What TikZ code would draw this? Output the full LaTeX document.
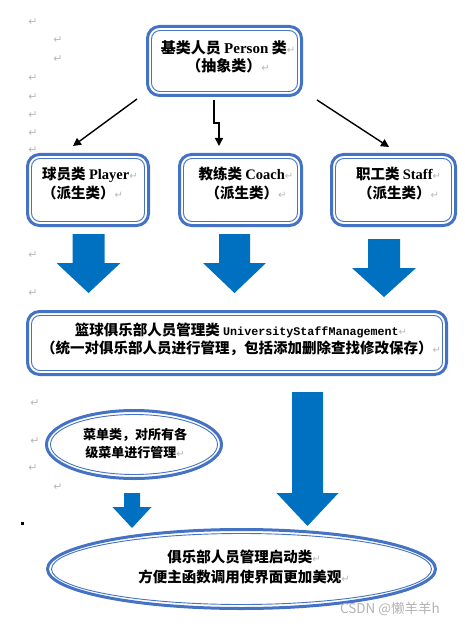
\documentclass[tikz,border=0pt]{standalone}
\usepackage{fontspec}
\setmainfont{Liberation Serif}
\newfontfamily\cjk{Noto Sans CJK SC}
\newfontfamily\myen{Liberation Serif}
\newfontfamily\mymono{Liberation Mono}
\newfontfamily\dejavu{DejaVu Sans}
\usetikzlibrary{arrows.meta,calc,shapes.geometric}
\definecolor{boxblue}{HTML}{4472C4}
\definecolor{arrblue}{HTML}{0070C0}
\newcommand\parmark{{\dejavu\mdseries\color{gray!55}\fontsize{10}{10}\selectfont ↵}}
\newcommand\en[1]{{\myen\bfseries #1}}
\newcommand\blockarrow[6]{% xc, ytop, shaft half, head half, yhead, ytip
  \fill[arrblue] (#1-#3,#2) -- (#1+#3,#2) -- (#1+#3,#5) -- (#1+#4,#5) -- (#1,#6) -- (#1-#4,#5) -- (#1-#3,#5) -- cycle;}
\newcommand\innerbox[1]{\draw[boxblue,line width=0.9pt,rounded corners=8.5pt] ($(#1.north west)+(4,4)$) rectangle ($(#1.south east)+(-4,-4)$);}
\tikzset{
  rbox/.style={draw=boxblue,line width=3pt,rounded corners=12pt,outer sep=0pt,inner sep=0pt,fill=white},
  ebox/.style={ellipse,draw=boxblue,line width=3pt,outer sep=0pt,inner sep=0pt,fill=white},
  einner/.style={draw=boxblue,line width=0.9pt},
  txt/.style={inner sep=0pt,align=center,font=\cjk\bfseries\fontsize{14.5}{19}\selectfont},
  conn/.style={line width=1.4pt,-{Triangle[length=8pt,width=8pt]}},
  pmark/.style={inner sep=0pt,font=\dejavu\fontsize{11}{11}\selectfont,text=gray!55}
}
\begin{document}
\begin{tikzpicture}[x=1pt,y=-1pt]
\useasboundingbox (0,0) rectangle (464,628);
% paragraph marks in the margin
\foreach \px/\py [count=\i] in {33/22,58/40,58/59,33/78,33/97,33/115,33/133,33/150,33/255,33/293,35/403,35/441,33/468,58/487}
  \node[pmark] (pm\i) at (\px,\py) {↵};
\node[fill=black,minimum size=3pt,inner sep=0pt] (dot) at (22,523) {};

% boxes
\node[rbox,minimum width=154,minimum height=69] (top) at (224.5,61) {};
\innerbox{top}
\node[rbox,minimum width=121,minimum height=71] (player) at (88,190) {};
\innerbox{player}
\node[rbox,minimum width=122,minimum height=71] (coach) at (240.5,190) {};
\innerbox{coach}
\node[rbox,minimum width=124,minimum height=71] (staff) at (393.5,190) {};
\innerbox{staff}
\node[rbox,minimum width=419,minimum height=63] (mgmt) at (237,343) {};
\innerbox{mgmt}
\node[ebox,minimum width=175,minimum height=68] (menu) at (134,444.5) {};
\draw[einner] (menu.center) ellipse [x radius=83.5pt,y radius=30pt];
\node[ebox,minimum width=388,minimum height=79] (start) at (241.5,569) {};
\draw[einner] (start.center) ellipse [x radius=190pt,y radius=35.5pt];

% texts
\node[txt,font=\cjk\bfseries\fontsize{15}{18}\selectfont] (toptxt) at (228,57)
  {基类人员 \en{Person} 类\parmark\\（抽象类）\parmark};
\node[txt,align=left,anchor=west] (ptxt) at (42,183.5) {球员类 \en{Player}\parmark\\（派生类）\parmark};
\node[txt] (ctxt) at (246,183.5) {教练类 \en{Coach}\parmark\\（派生类）\parmark};
\node[txt] (stxt) at (398.5,183.5) {职工类 \en{Staff}\parmark\\（派生类）\parmark};
\node[txt,font=\cjk\bfseries\fontsize{14.5}{18}\selectfont] (mtxt) at (241,339)
  {篮球俱乐部人员管理类 {\mymono\bfseries\fontsize{11.7}{18}\selectfont UniversityStaffManagement}\parmark\\（统一对俱乐部人员进行管理，包括添加删除查找修改保存）\parmark};
\node[txt,font=\cjk\bfseries\fontsize{13}{18}\selectfont] (menutxt) at (135,444)
  {菜单类，对所有各\\级菜单进行管理\parmark};
\node[txt,font=\cjk\bfseries\fontsize{14.5}{20}\selectfont] (starttxt) at (244,567)
  {俱乐部人员管理启动类\parmark\\方便主函数调用使界面更加美观\parmark};
\node[inner sep=0pt,font=\cjk\fontsize{13.5}{13.5}\selectfont,text=gray!60] (wm) at (390,609) {CSDN @懒羊羊h};

% connectors
\coordinate (a1s) at ($(top.south west)+(-10.5,3.5)$);
\coordinate (a1e) at ($(player.north west)+(45.5,-8.5)$);
\draw[conn] (a1s) -- (a1e);
\coordinate (a2s) at ($(top.south)+(-10.5,4.5)$);
\coordinate (a2m) at ($(coach.north)+(-21.5,-31.5)$);
\coordinate (a2e) at ($(coach.north)+(-21.5,-8.5)$);
\draw[conn] (a2s) |- (a2m) -- (a2e);
\coordinate (a3s) at ($(top.south east)+(15.5,4.5)$);
\coordinate (a3e) at ($(staff.north west)+(57.5,-7.5)$);
\draw[conn] (a3s) -- (a3e);

% block arrows
\blockarrow{88.5}{234}{16}{32}{263}{293}
\blockarrow{234.5}{234}{15.5}{31.5}{263}{293}
\blockarrow{384}{239}{16}{32}{268}{297}
\blockarrow{132}{493}{8}{19.5}{507}{528}
\blockarrow{307.5}{392}{15.5}{31}{493}{526}
\end{tikzpicture}
\end{document}
